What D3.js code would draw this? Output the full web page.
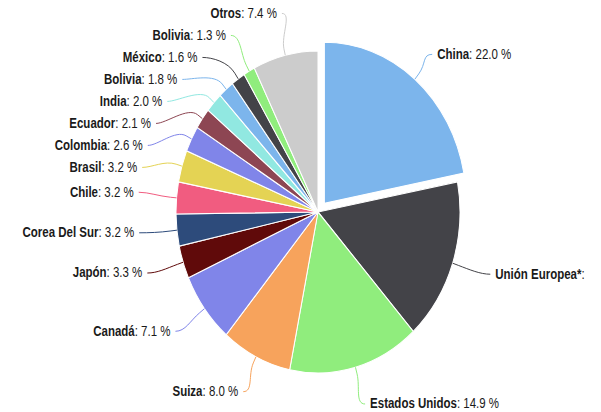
<!DOCTYPE html>
<html>
<head>
<meta charset="utf-8">
<script src="https://cdn.jsdelivr.net/npm/d3@7"></script>
<style>
  body { margin: 0; background: #fff; }
  text { font-family: "Liberation Sans", Arial, sans-serif; }
</style>
</head>
<body>
<script>
// export shares by destination, % of total
var names = ["China", "Unión Europea*", "Estados Unidos", "Suiza", "Canadá", "Japón",
  "Corea Del Sur", "Chile", "Brasil", "Colombia", "Ecuador", "India", "Bolivia",
  "México", "Bolivia", "Otros"];
var shares = [22.0, 16.3, 14.9, 8.0, 7.1, 3.3, 3.2, 3.2, 3.2, 2.6, 2.1, 2.0, 1.8, 1.6, 1.3, 7.4];
var colors = ["#7cb5ec", "#434348", "#90ed7d", "#f7a35c", "#8085e9", "#600a0a",
  "#2d4b7b", "#f15c80", "#e4d354", "#8085e9", "#8d4653", "#91e8e1", "#7cb5ec",
  "#434348", "#90ed7d", "#cccccc"];
var slicedIndex = 0;

var w = 601, h = 412;
var sy = 1.134;               // picture is stretched vertically
var cx = 318, cy = 212 / sy;
var R = 142;
var labelCy = 210 / sy, labelRx = 187, labelRy = 202 / sy, gap = 22 / sy;
var maxLabelY = 404 / sy;
var textSx = 0.92;            // glyphs are a bit narrow in the picture
var fmt = d3.format(".1f");

var data = names.map(function(n, i) {
  return { name: n, value: shares[i], color: colors[i], i: i };
});

var svg = d3.select("body").append("svg")
    .attr("width", w)
    .attr("height", h);

svg.append("rect").attr("width", w).attr("height", h).attr("fill", "#fff");

// the plot area ends just before the right edge, labels past it are cut
svg.append("defs").append("clipPath")
    .attr("id", "clip")
  .append("rect")
    .attr("x", 0).attr("y", 0)
    .attr("width", 587).attr("height", h / sy);

var g = svg.append("g")
    .attr("transform", "scale(1," + sy + ")")
    .attr("clip-path", "url(#clip)");

var pie = d3.pie().sort(null).value(function(d) { return d.value; });
var arc = d3.arc().innerRadius(0).outerRadius(R);
var arcs = pie(data);

arcs.forEach(function(a) {
  a.mid = (a.startAngle + a.endAngle) / 2;
  a.off = a.data.i === slicedIndex ? 10 : 0;
  a.ox = Math.sin(a.mid) * a.off;
  a.oy = -Math.cos(a.mid) * a.off;
  a.side = a.mid > Math.PI ? "left" : "right";
  a.ty = labelCy - labelRy * Math.cos(a.mid);
});

// spread labels on each side so they don't overlap, keep them above the bottom
["left", "right"].forEach(function(side) {
  var list = arcs.filter(function(a) { return a.side === side; })
    .sort(function(a, b) { return a.ty - b.ty; });
  var prev = -Infinity;
  list.forEach(function(a) {
    a.ly = Math.max(a.ty, prev + gap);
    prev = a.ly;
  });
  var next = maxLabelY + gap;
  for (var k = list.length - 1; k >= 0; k--) {
    list[k].ly = Math.min(list[k].ly, next - gap);
    next = list[k].ly;
  }
  list.forEach(function(a) {
    var dy = Math.max(-1, Math.min(1, (a.ly - labelCy) / labelRy));
    var dx = labelRx * Math.sqrt(1 - dy * dy);
    a.lx = side === "left" ? cx - dx + 2 : cx + dx;
  });
});

// slices
g.selectAll("path.slice")
  .data(arcs)
  .enter()
  .append("path")
    .attr("class", "slice")
    .attr("d", arc)
    .attr("transform", function(d) {
      return "translate(" + (cx + d.ox) + "," + (cy + d.oy) + ")";
    })
    .attr("fill", function(d) { return d.data.color; })
    .attr("stroke", "#fff")
    .attr("stroke-width", 1);

// connectors
g.selectAll("path.conn")
  .data(arcs)
  .enter()
  .append("path")
    .attr("class", "conn")
    .attr("fill", "none")
    .attr("stroke", function(d) { return d.data.color; })
    .attr("stroke-width", 1)
    .attr("vector-effect", "non-scaling-stroke")
    .attr("d", function(d) {
      var ux = Math.sin(d.mid), uy = -Math.cos(d.mid);
      var ex = cx + d.ox + ux * R, ey = cy + d.oy + uy * R;
      var bx = ex + ux * 6, by = ey + uy * 6;
      var toward = d.side === "left" ? 1 : -1;
      var sx = d.lx + toward * 5, syy = d.ly;
      return "M" + sx + "," + syy +
        "C" + (sx + toward * 10) + "," + syy + " " +
        (bx + ux * 12) + "," + (by + uy * 12) + " " + bx + "," + by +
        "L" + ex + "," + ey;
    });

// labels
var lab = g.selectAll("text.lab")
  .data(arcs)
  .enter()
  .append("text")
    .attr("class", "lab")
    .attr("transform", function(d) {
      return "translate(" + d.lx + "," + (d.ly + 4.3 / sy) + ") scale(" + textSx + ",1)";
    })
    .attr("text-anchor", function(d) { return d.side === "left" ? "end" : "start"; })
    .attr("font-size", "12.5px")
    .attr("fill", "#1a1a1a");

lab.append("tspan")
    .attr("font-weight", "bold")
    .text(function(d) { return d.data.name; });
lab.append("tspan")
    .text(function(d) { return ": " + fmt(d.data.value) + " %"; });
</script>
</body>
</html>
